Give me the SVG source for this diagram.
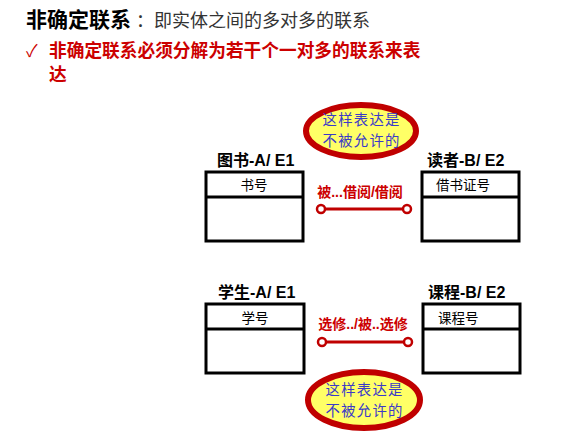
<svg xmlns="http://www.w3.org/2000/svg" width="583" height="433" viewBox="0 0 583 433">
<style>
.cjk{font-family:"Noto Sans CJK SC","Liberation Sans",sans-serif}
.box{fill:#fff;stroke:#000;stroke-width:3}
.div{stroke:#000;stroke-width:3}
.title{font-family:"Liberation Sans","Noto Sans CJK SC",sans-serif;font-weight:bold;font-size:16px;fill:#000}
.attr{font-family:"Noto Sans CJK SC",sans-serif;font-size:13.5px;fill:#000}
.rel{font-family:"Liberation Sans","Noto Sans CJK SC",sans-serif;font-weight:bold;font-size:14px;fill:#CC0000}
.line{stroke:#C00000;stroke-width:3;fill:none}
.end{fill:#fff;stroke:#C00000;stroke-width:2.5}
.oval{fill:#FFFF66;stroke:#C00000;stroke-width:6}
.warn{font-family:"Noto Sans CJK SC",sans-serif;font-size:14.4px;fill:#3B3BC8;text-anchor:middle}
</style>
<rect width="583" height="433" fill="#fff"/>
<g id="header">
<text x="26" y="27" class="cjk" font-size="21" font-weight="bold" fill="#000">非确定联系</text>
<text x="136" y="27" class="cjk" font-size="18" fill="#333">：即实体之间的多对多的联系</text>
<text x="26" y="57" class="cjk" font-size="17" fill="#CC0000">✓</text>
<text x="49" y="57" class="cjk" font-size="17.7" font-weight="bold" fill="#CC0000">非确定联系必须分解为若干个一对多的联系来表</text>
<text x="49" y="81" class="cjk" font-size="17.7" font-weight="bold" fill="#CC0000">达</text>
</g>
<g id="book">
<text x="217" y="166" class="title">图书-A/ E1</text>
<rect x="206" y="172" width="97" height="69" class="box"/>
<line x1="206" y1="197" x2="303" y2="197" class="div"/>
<text x="254" y="190" class="attr" text-anchor="middle">书号</text>
</g>
<g id="reader">
<text x="427" y="166" class="title">读者-B/ E2</text>
<rect x="422" y="172" width="97" height="69" class="box"/>
<line x1="422" y1="197" x2="519" y2="197" class="div"/>
<text x="436" y="190" class="attr">借书证号</text>
</g>
<g id="student">
<text x="218" y="298" class="title">学生-A/ E1</text>
<rect x="206" y="304" width="98" height="69" class="box"/>
<line x1="206" y1="329" x2="304" y2="329" class="div"/>
<text x="255" y="323" class="attr" text-anchor="middle">学号</text>
</g>
<g id="course">
<text x="428" y="298" class="title">课程-B/ E2</text>
<rect x="423" y="304" width="97" height="69" class="box"/>
<line x1="423" y1="329" x2="520" y2="329" class="div"/>
<text x="438" y="323" class="attr">课程号</text>
</g>
<g id="note1">
<ellipse cx="361" cy="131" rx="55" ry="26" class="oval"/>
<text x="361" y="124.5" class="warn" textLength="77" lengthAdjust="spacing">这样表达是</text>
<text x="361" y="145.5" class="warn" textLength="77" lengthAdjust="spacing">不被允许的</text>
</g>
<g id="note2">
<ellipse cx="364" cy="400" rx="56" ry="28" class="oval"/>
<text x="364" y="394.5" class="warn" textLength="77" lengthAdjust="spacing">这样表达是</text>
<text x="364" y="415.5" class="warn" textLength="77" lengthAdjust="spacing">不被允许的</text>
</g>
<g id="connectors">
<line x1="321" y1="209" x2="407" y2="209" class="line"/>
<circle cx="321" cy="209" r="4" class="end"/>
<circle cx="407" cy="209" r="4" class="end"/>
<text x="360" y="197" class="rel" text-anchor="middle">被...借阅/借阅</text>
<line x1="322" y1="342" x2="408" y2="342" class="line"/>
<circle cx="322" cy="342" r="4" class="end"/>
<circle cx="408" cy="342" r="4" class="end"/>
<text x="363" y="329" class="rel" text-anchor="middle">选修../被..选修</text>
</g>
</svg>
